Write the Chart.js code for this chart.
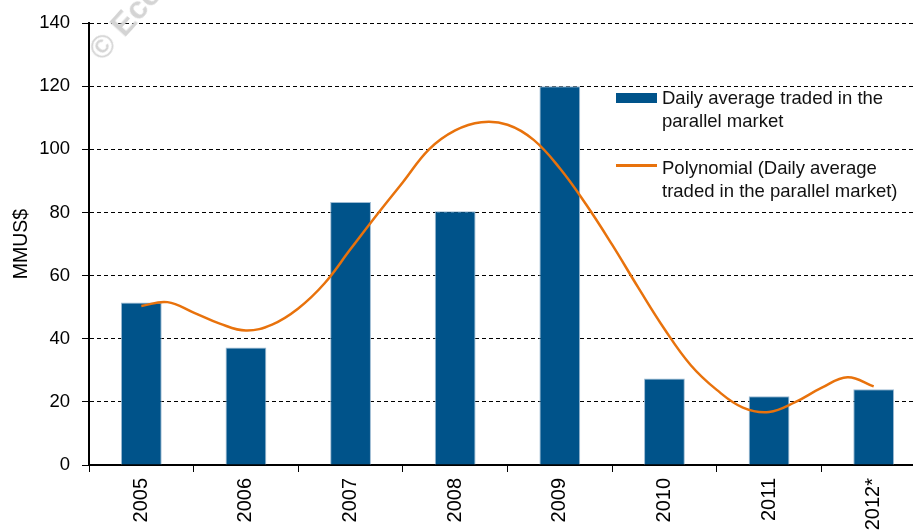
<!DOCTYPE html>
<html>
<head>
<meta charset="utf-8">
<script src="https://cdn.jsdelivr.net/npm/chart.js@4.4.0/dist/chart.umd.min.js"></script>
<style>
    html, body { margin: 0; padding: 0; background: #fff; overflow: hidden; }
    #wrap { position: relative; width: 913px; height: 531px; overflow: hidden; }
    #legend { position: absolute; left: 614px; top: 86px; font-family: "Liberation Sans", Arial, sans-serif; font-size: 18.5px; color: #111; line-height: 23px; white-space: nowrap; }
    .item { position: relative; padding-left: 48px; margin-bottom: 24px; }
    .swatch { position: absolute; left: 2px; top: 7px; width: 41px; height: 10px; background: #00538a; }
    .swatch.line { top: 8px; height: 3px; background: #e8720c; }
    #mark { position: absolute; left: 81px; top: 43px; font-family: "Liberation Sans", Arial, sans-serif; font-weight: bold; font-size: 32px; color: #d4d4d4; transform: rotate(-48deg); transform-origin: left top; white-space: nowrap; }
</style>
</head>
<body>
<div id="wrap">
    <canvas id="barChart" width="930" height="531"></canvas>
    <div id="mark">© Ecoanalítica</div>
    <div id="legend">
        <div class="item"><span class="swatch"></span>Daily average traded in the<br>parallel market</div>
        <div class="item"><span class="swatch line"></span>Polynomial (Daily average<br>traded in the parallel market)</div>
    </div>
</div>
<script>
    var years = ['2005', '2006', '2007', '2008', '2009', '2010', '2011', '2012*'];
    var dailyAverage = [51.5, 37.2, 83.3, 80.4, 120, 27.4, 21.8, 24];
    var yTicks = [0, 20, 40, 60, 80, 100, 120, 140];

    // trend line, positions in category units (0 = 2005)
    var trendX = [0, 0.25, 0.5, 0.75, 1, 1.25, 1.5, 1.75, 2, 2.25, 2.5, 2.75, 3, 3.25, 3.5, 3.75, 4, 4.25, 4.5, 4.75, 5, 5.25, 5.5, 5.75, 6, 6.25, 6.5, 6.75, 7];
    var trendY = [50.4, 51.6, 48.3, 44.8, 42.6, 44.5, 49.6, 57.5, 68.4, 79.2, 89.6, 100, 106, 108.6, 107.8, 103, 94, 82.6, 69.8, 56.2, 43.1, 31.7, 23.8, 18.2, 16.8, 19.9, 24.4, 27.8, 24.9];

    var trend = trendX.map(function (x, i) {
        return {x: x, y: trendY[i]};
    });

    var fam = '"Liberation Sans", Arial, sans-serif';

    var ctx = document.getElementById('barChart').getContext('2d');
    var barChart = new Chart(ctx, {
        type: 'bar',
        data: {
            labels: years,
            datasets: [{
                type: 'line',
                label: 'Polynomial (Daily average traded in the parallel market)',
                data: trend,
                xAxisID: 'xc',
                borderColor: '#e8720c',
                borderWidth: 2.5,
                pointRadius: 0,
                tension: 0.4,
                fill: false,
                order: 0
            }, {
                label: 'Daily average traded in the parallel market',
                data: dailyAverage,
                xAxisID: 'x',
                backgroundColor: '#00538a',
                borderColor: '#9dbbd3',
                borderWidth: 1,
                grouped: false,
                barPercentage: 0.39,
                categoryPercentage: 1,
                order: 1
            }]
        },
        options: {
            responsive: false,
            animation: false,
            layout: {padding: {top: 21, right: 4, left: 0, bottom: 0}},
            plugins: {
                legend: {display: false},
                tooltip: {enabled: false}
            },
            scales: {
                x: {
                    type: 'category',
                    offset: true,
                    grid: {offset: true, drawOnChartArea: false, drawTicks: true, tickLength: 7, color: '#000', lineWidth: 1},
                    border: {color: '#000', width: 2},
                    ticks: {color: '#000', font: {family: fam, size: 20}, minRotation: 90, maxRotation: 90, padding: 6},
                    afterFit: function (scale) { scale.height = 66; }
                },
                xc: {
                    type: 'linear',
                    axis: 'x',
                    display: false,
                    offset: false,
                    grid: {offset: false},
                    min: -0.5,
                    max: 7.5
                },
                y: {
                    min: 0,
                    max: 140,
                    afterBuildTicks: function (scale) {
                        scale.ticks = yTicks.map(function (v) { return {value: v}; });
                    },
                    grid: {color: '#000', lineWidth: 1, tickLength: 7, tickColor: '#000'},
                    border: {color: '#000', width: 2, dash: [4, 3]},
                    ticks: {color: '#000', font: {family: fam, size: 18.5}, padding: 12},
                    title: {display: true, text: 'MMUS$', color: '#000', font: {family: fam, size: 19.5}, padding: {top: 10, bottom: 0}},
                    afterFit: function (scale) { scale.width = 89; }
                }
            }
        }
    });
</script>
</body>
</html>
